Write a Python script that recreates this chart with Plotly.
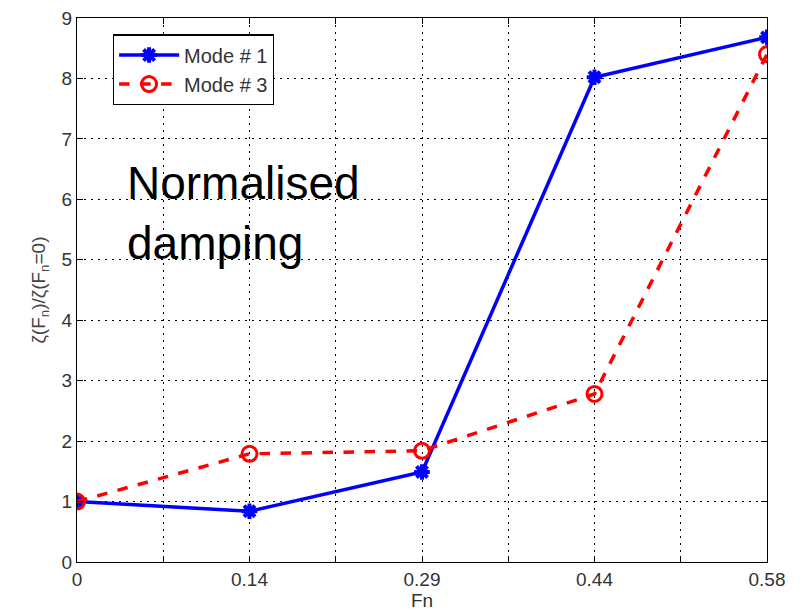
import plotly.graph_objects as go

fn = [0, 0.145, 0.29, 0.435, 0.58]
mode1 = [1.0, 0.84, 1.49, 8.02, 8.68]
mode3 = [1.0, 1.79, 1.84, 2.78, 8.40]
xtick_vals = [0, 0.0725, 0.145, 0.2175, 0.29, 0.3625, 0.435, 0.5075, 0.58]
xtick_text = ["0", "", "0.14", "", "0.29", "", "0.44", "", "0.58"]
ytick_vals = list(range(0, 10))

FONT = "Liberation Sans, Arial"

fig = go.Figure()
fig.add_trace(go.Scatter(
    x=fn, y=mode1, mode="lines+markers", name="Mode # 1",
    line=dict(color="#0000ff", width=3.5),
    marker=dict(symbol="asterisk-open", size=13, color="#0000ff",
                line=dict(color="#0000ff", width=4)),
))
fig.add_trace(go.Scatter(
    x=fn, y=mode3, mode="lines+markers", name="Mode # 3",
    line=dict(color="#ff0000", width=3.5, dash="dash"),
    marker=dict(symbol="circle-open", size=15, color="#ff0000",
                line=dict(color="#ff0000", width=3)),
))

fig.add_annotation(
    x=0.04, y=5.78, xref="x", yref="y", xanchor="left", yanchor="middle",
    text="Normalised<br>damping", showarrow=False, align="left",
    font=dict(family=FONT, size=46, color="#000"),
)

axis_common = dict(
    showline=True, linecolor="#000", linewidth=1.2, mirror="ticks",
    ticks="inside", ticklen=6, tickcolor="#000",
    showgrid=True, gridcolor="#000", gridwidth=1, griddash="2px,5px",
    zeroline=False, automargin=False,
    tickfont=dict(family=FONT, size=19, color="#333"),
)

fig.update_xaxes(
    range=[0, 0.58], tickvals=xtick_vals, ticktext=xtick_text,
    title=dict(text="Fn", standoff=2,
               font=dict(family=FONT, size=19, color="#333")),
    **axis_common,
)
fig.update_yaxes(
    range=[0, 9], tickvals=ytick_vals,
    title=dict(text="ζ(F<sub>n</sub>)/ζ(F<sub>n</sub>=0)", standoff=10,
               font=dict(family=FONT, size=19, color="#444")),
    **axis_common,
)

fig.update_layout(
    width=802, height=614,
    margin=dict(l=77, r=35, t=18, b=52),
    plot_bgcolor="white", paper_bgcolor="white",
    showlegend=True,
    legend=dict(
        x=0.052, y=0.97, xanchor="left", yanchor="top",
        bgcolor="white", bordercolor="#000", borderwidth=1.2,
        font=dict(family=FONT, size=20, color="#333"),
        itemwidth=60, tracegroupgap=0,
    ),
)

fig.write_html("out.html")
